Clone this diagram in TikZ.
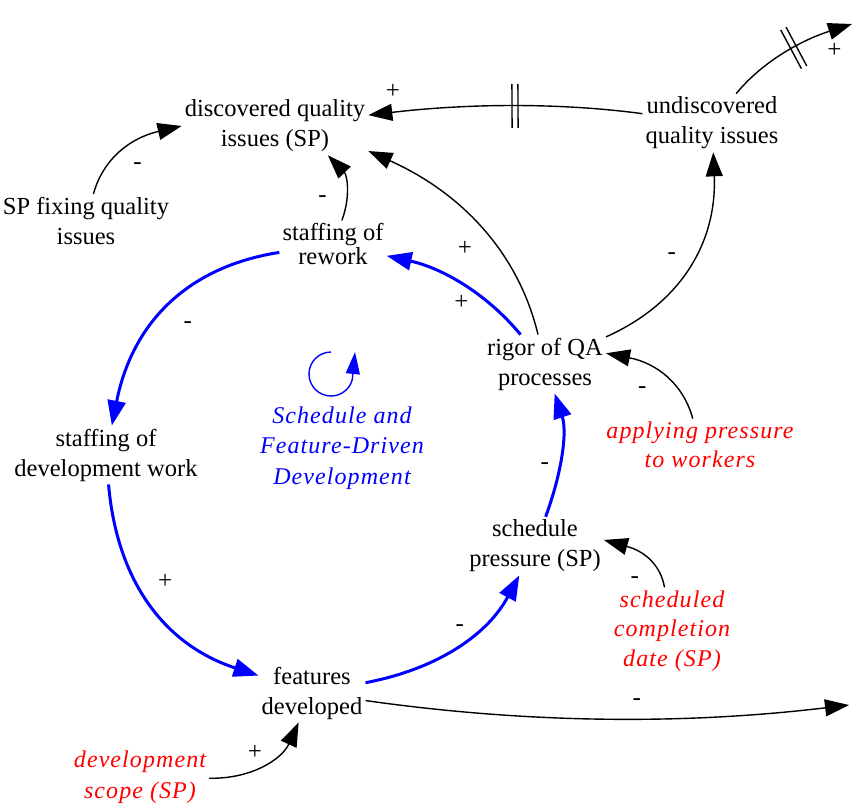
\documentclass[tikz,border=0pt]{standalone}
\usepackage{fontspec}
\setmainfont{Liberation Serif}
\newfontfamily\wideit[LetterSpace=4.5]{Liberation Serif}
\usetikzlibrary{arrows.meta, decorations.markings}
\tikzstyle{var}=[align=center, inner sep=3pt, font=\fontsize{24.5}{30}\selectfont]
\tikzstyle{exo}=[var, text=red, font=\fontsize{24}{29.5}\selectfont\wideit\itshape]
\tikzstyle{lnk}=[draw, line width=1.4pt, -{Triangle[length=24pt,width=17pt]}]
\tikzstyle{bluelnk}=[lnk, draw=blue, line width=3pt, -{Triangle[length=25pt,width=18pt]}]
\tikzstyle{sgn}=[inner sep=1pt, font=\fontsize{25}{25}\selectfont]
\tikzset{delay/.style={postaction={decorate}, decoration={markings,
  mark=at position #1 with {\draw[-, line width=1.4pt] (-3pt,-22pt) -- (-3pt,22pt) (3pt,-22pt) -- (3pt,22pt);}}}}

\begin{document}
\begin{tikzpicture}[x=1pt, y=-1pt]
      \useasboundingbox (0,0) rectangle (854,807);
      \node [var] (disc) at (275,126) {discovered quality\\issues (SP)};
      \node [var] (undisc) at (712,123) {undiscovered\\quality issues};
      \node [var] (spfix) at (86,221) {SP fixing quality\\issues};
      \node [var, font=\fontsize{24.5}{21}\selectfont] (rework) at (333,244) {staffing of\\rework};
      \node [var] (rigor) at (545,364) {rigor of QA\\processes};
      \node [var] (devwork) at (106,455) {staffing of\\development work};
      \node [var] (feat) at (312,693) {features\\developed};
      \node [var] (sched) at (535,546) {schedule\\pressure (SP)};
      \node [exo] (press) at (700,445) {applying pressure\\to workers};
      \node [exo] (compl) at (672,631) {scheduled\\completion\\date (SP)};
      \node [exo, font=\fontsize{24}{31}\selectfont\wideit\itshape] (scope) at (140,777) {development\\scope (SP)};
      \node [var, text=blue, font=\fontsize{24}{30.5}\selectfont\wideit\itshape] (loopname) at (342,448) {Schedule and\\Feature-Driven\\Development};
      \coordinate (outTR) at (852,24);
      \coordinate (outR) at (849,705);
      % loop symbol
      \draw [blue, line width=1.4pt, -{Triangle[length=22pt,width=14pt]}] (331,352) arc[start angle=-90, end angle=-345, radius=22] -- (355,352);
      % links
      \draw [lnk, delay=.465] (undisc) .. controls (563,103) and (472,103) .. (disc) node [sgn, pos=.92, above=12pt] {+};
      \draw [lnk, delay=.54] (undisc) .. controls (763,61) and (802,40) .. (outTR) node [sgn, pos=.88, below=12pt] {+};
      \draw [lnk] (spfix) .. controls (103,159) and (130,138) .. (disc.west) node [sgn, pos=.5, below right=10pt] {-};
      \draw [lnk] (rework) .. controls (351,196) and (347,175) .. (disc.-29) node [sgn, pos=.3, left=18pt] {-};
      \draw [lnk] (rigor) .. controls (519,255) and (464,194) .. (disc.-15) node [sgn, pos=.4, left=24pt] {+};
      \draw [bluelnk] (rigor) .. controls (486,293) and (442,268) .. (rework) node [sgn, pos=.5, below=9pt] {+};
      \draw [lnk] (rigor) .. controls (682,303) and (717,241) .. (undisc) node [sgn, pos=.55, left=17pt] {-};
      \draw [bluelnk] (rework) .. controls (186,267) and (132,324) .. (devwork) node [sgn, pos=.5, below right=13pt] {-};
      \draw [bluelnk] (devwork) .. controls (117,582) and (165,645) .. (feat) node [sgn, pos=.45, above right=4pt, xshift=7pt] {+};
      \draw [bluelnk] (feat) .. controls (442,668) and (489,632) .. (sched) node [sgn, pos=.5, above=11pt] {-};
      \draw [bluelnk] (sched) .. controls (563,469) and (567,431) .. (rigor) node [sgn, pos=.38, left=8pt] {-};
      \draw [lnk] (press) .. controls (683,383) and (656,363) .. (rigor.10) node [sgn, pos=.55, below left=12pt] {-};
      \draw [lnk] (compl) .. controls (661,567) and (647,552) .. (sched.5) node [sgn, pos=.12, left=22pt] {-};
      \draw [lnk] (feat) .. controls (517,722) and (673,726) .. (outR) node [sgn, pos=.58, above=12pt] {-};
      \draw [lnk] (scope) .. controls (252,779) and (282,759) .. (feat) node [sgn, pos=.5, above left=3pt, xshift=3pt] {+};
\end{tikzpicture}
\end{document}
